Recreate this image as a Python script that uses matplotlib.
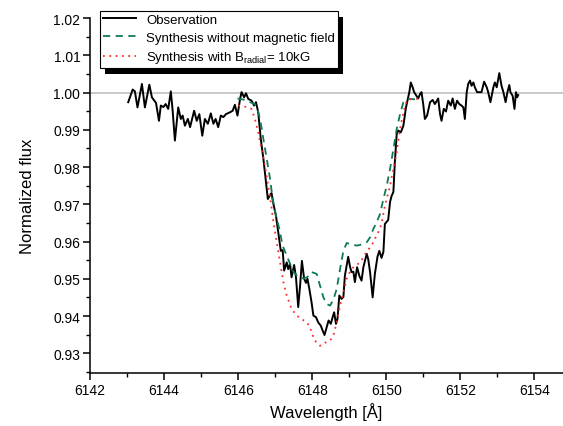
import matplotlib
matplotlib.use("Agg")
import matplotlib.pyplot as plt
from matplotlib.patches import Rectangle
from matplotlib.ticker import MultipleLocator, FormatStrFormatter

plt.rcParams['font.family'] = ['Liberation Sans', 'DejaVu Sans']
plt.rcParams['mathtext.fontset'] = 'custom'
plt.rcParams['mathtext.rm'] = 'Liberation Sans'
plt.rcParams['mathtext.it'] = 'Liberation Sans'

# Observation
obs_wl = [6143.03, 6143.15, 6143.21, 6143.28, 6143.40, 6143.48, 6143.60, 6143.67, 6143.78, 6143.86,
          6143.91, 6143.98, 6144.04, 6144.11, 6144.18, 6144.23, 6144.29, 6144.38, 6144.45, 6144.50,
          6144.56, 6144.64, 6144.70, 6144.81, 6144.88, 6144.95, 6145.03, 6145.10, 6145.18, 6145.26,
          6145.33, 6145.39, 6145.46, 6145.53, 6145.60, 6145.67, 6145.78, 6145.85, 6145.91, 6145.98,
          6146.05, 6146.09, 6146.16, 6146.21, 6146.27, 6146.36, 6146.43, 6146.48, 6146.54, 6146.61,
          6146.68, 6146.75, 6146.80, 6146.86, 6146.90, 6146.95, 6147.02, 6147.08, 6147.15, 6147.20,
          6147.24, 6147.31, 6147.35, 6147.40, 6147.44, 6147.51, 6147.56, 6147.62, 6147.67, 6147.72,
          6147.78, 6147.83, 6147.87, 6147.92, 6147.98, 6148.03, 6148.10, 6148.16, 6148.23, 6148.28,
          6148.33, 6148.39, 6148.44, 6148.50, 6148.55, 6148.59, 6148.64, 6148.68, 6148.73, 6148.79,
          6148.84, 6148.88, 6148.97, 6149.02, 6149.06, 6149.11, 6149.15, 6149.21, 6149.27, 6149.33,
          6149.38, 6149.47, 6149.51, 6149.56, 6149.63, 6149.69, 6149.76, 6149.81, 6149.87, 6149.92,
          6149.96, 6150.05, 6150.10, 6150.14, 6150.19, 6150.23, 6150.28, 6150.32, 6150.39, 6150.46,
          6150.53, 6150.57, 6150.62, 6150.66, 6150.71, 6150.75, 6150.82, 6150.86, 6150.91, 6150.95,
          6151.00, 6151.04, 6151.10, 6151.18, 6151.25, 6151.31, 6151.40, 6151.45, 6151.49, 6151.55,
          6151.61, 6151.67, 6151.74, 6151.79, 6151.85, 6151.91, 6151.97, 6152.03, 6152.08, 6152.12,
          6152.17, 6152.21, 6152.26, 6152.30, 6152.35, 6152.39, 6152.45, 6152.51, 6152.57, 6152.64,
          6152.71, 6152.75, 6152.81, 6152.89, 6152.93, 6152.98, 6153.05, 6153.11, 6153.16, 6153.22,
          6153.27, 6153.32, 6153.35, 6153.41, 6153.46, 6153.50, 6153.53, 6153.56]
obs_flux = [0.9974, 1.0008, 1.0003, 0.9960, 1.0023, 0.9960, 1.0021, 0.9987, 0.9972, 0.9924,
            0.9965, 0.9961, 0.9969, 0.9956, 1.0003, 0.9951, 0.9871, 0.9960, 0.9929, 0.9938,
            0.9911, 0.9929, 0.9907, 0.9951, 0.9924, 0.9942, 0.9884, 0.9929, 0.9916, 0.9944,
            0.9916, 0.9929, 0.9907, 0.9938, 0.9934, 0.9942, 0.9947, 0.9951, 0.9967, 0.9938,
            0.9983, 1.0001, 0.9987, 0.9998, 0.9983, 0.9978, 0.9965, 0.9974, 0.9947, 0.9875,
            0.9822, 0.9760, 0.9714, 0.9725, 0.9730, 0.9701, 0.9669, 0.9626, 0.9575, 0.9577,
            0.9522, 0.9544, 0.9526, 0.9540, 0.9504, 0.9537, 0.9504, 0.9424, 0.9481, 0.9548,
            0.9500, 0.9489, 0.9500, 0.9473, 0.9437, 0.9401, 0.9397, 0.9383, 0.9374, 0.9361,
            0.9349, 0.9370, 0.9388, 0.9379, 0.9397, 0.9410, 0.9379, 0.9392, 0.9455, 0.9446,
            0.9451, 0.9508, 0.9559, 0.9532, 0.9518, 0.9519, 0.9491, 0.9531, 0.9508, 0.9495,
            0.9531, 0.9567, 0.9553, 0.9518, 0.9450, 0.9513, 0.9559, 0.9575, 0.9556, 0.9572,
            0.9647, 0.9658, 0.9706, 0.9722, 0.9733, 0.9814, 0.9889, 0.9898, 0.9893, 0.9911,
            0.9960, 0.9978, 1.0001, 1.0027, 1.0014, 1.0001, 0.9990, 0.9984, 0.9996, 1.0001,
            0.9965, 0.9929, 0.9938, 0.9974, 0.9980, 0.9969, 0.9984, 0.9942, 0.9924, 0.9956,
            0.9949, 0.9978, 0.9965, 0.9984, 0.9956, 0.9978, 0.9969, 0.9965, 0.9960, 0.9929,
            1.0001, 1.0023, 1.0032, 1.0018, 1.0027, 1.0014, 1.0001, 1.0001, 1.0001, 1.0029,
            1.0014, 1.0001, 0.9974, 1.0014, 1.0027, 1.0014, 1.0052, 1.0018, 1.0001, 0.9974,
            1.0001, 1.0020, 1.0001, 0.9991, 0.9956, 1.0001, 0.9987, 0.9993]

# Synthesis without magnetic field
nomag_wl = [6145.98, 6146.14, 6146.32, 6146.45, 6146.52, 6146.59, 6146.68, 6146.77, 6146.86, 6146.93,
            6147.02, 6147.11, 6147.20, 6147.31, 6147.40, 6147.49, 6147.62, 6147.76, 6147.86, 6147.98,
            6148.12, 6148.21, 6148.30, 6148.39, 6148.48, 6148.57, 6148.66, 6148.75, 6148.84, 6148.93,
            6149.02, 6149.20, 6149.38, 6149.47, 6149.56, 6149.65, 6149.74, 6149.83, 6149.92, 6150.01,
            6150.10, 6150.19, 6150.28, 6150.37, 6150.46, 6150.55, 6150.64, 6150.82]
nomag_flux = [0.9984, 0.9981, 0.9974, 0.9969, 0.9956, 0.9929, 0.9875, 0.9822, 0.9768, 0.9714,
              0.9669, 0.9634, 0.9589, 0.9562, 0.9540, 0.9519, 0.9504, 0.9501, 0.9504, 0.9518,
              0.9513, 0.9481, 0.9450, 0.9432, 0.9428, 0.9444, 0.9473, 0.9526, 0.9575, 0.9596,
              0.9593, 0.9589, 0.9593, 0.9598, 0.9611, 0.9634, 0.9652, 0.9674, 0.9714, 0.9750,
              0.9795, 0.9848, 0.9902, 0.9942, 0.9974, 0.9981, 0.9983, 0.9981]

# Synthesis with B_radial = 10 kG
mag_wl = [6146.00, 6146.14, 6146.27, 6146.36, 6146.45, 6146.54, 6146.63, 6146.72, 6146.81, 6146.88,
          6146.95, 6147.04, 6147.13, 6147.22, 6147.31, 6147.44, 6147.58, 6147.71, 6147.85, 6147.94,
          6147.98, 6148.07, 6148.21, 6148.34, 6148.48, 6148.57, 6148.66, 6148.75, 6148.84, 6148.93,
          6149.02, 6149.11, 6149.20, 6149.29, 6149.38, 6149.47, 6149.60, 6149.69, 6149.78, 6149.87,
          6149.96, 6150.10, 6150.19, 6150.28, 6150.37, 6150.46, 6150.55, 6150.68, 6150.82, 6150.95]
mag_flux = [0.9965, 0.9963, 0.9960, 0.9956, 0.9929, 0.9893, 0.9848, 0.9804, 0.9750, 0.9705,
            0.9652, 0.9598, 0.9544, 0.9491, 0.9455, 0.9419, 0.9401, 0.9392, 0.9383, 0.9370,
            0.9356, 0.9334, 0.9320, 0.9328, 0.9334, 0.9347, 0.9383, 0.9428, 0.9464, 0.9500,
            0.9519, 0.9531, 0.9537, 0.9544, 0.9558, 0.9573, 0.9589, 0.9607, 0.9625, 0.9647,
            0.9696, 0.9750, 0.9795, 0.9840, 0.9902, 0.9947, 0.9978, 0.9983, 0.9983, 0.9984]

labels = ['Observation', 'Synthesis without magnetic field',
          'Synthesis with B$_{\\mathrm{radial}}$= 10kG']

fig = plt.figure(figsize=(5.63, 4.27), dpi=100)
ax = fig.add_axes([0.16, 0.1241, 0.84, 0.8314])

ax.axhline(1.0, color='#c0c0c0', lw=1.2, zorder=1)
l1, = ax.plot(obs_wl, obs_flux, color='black', lw=1.4, zorder=3)
l2, = ax.plot(nomag_wl, nomag_flux, color='#0e7a55', lw=1.3, ls=(0, (4, 3)), zorder=4)
l3, = ax.plot(mag_wl, mag_flux, color='#ff2a2a', lw=1.3, ls=(0, (1, 2.5)), zorder=4)

ax.set_xlim(6142, 6154.77)
ax.set_ylim(0.9247, 1.02)
ax.xaxis.set_major_locator(MultipleLocator(2))
ax.xaxis.set_minor_locator(MultipleLocator(1))
ax.yaxis.set_major_locator(MultipleLocator(0.01))
ax.yaxis.set_minor_locator(MultipleLocator(0.005))
ax.yaxis.set_major_formatter(FormatStrFormatter('%.2f'))
ax.xaxis.set_major_formatter(FormatStrFormatter('%d'))
for s in ['top', 'right']:
    ax.spines[s].set_visible(False)
for s in ['left', 'bottom']:
    ax.spines[s].set_linewidth(1.1)
ax.tick_params(which='major', direction='out', length=5, width=1.1, labelsize=10, pad=2)
ax.tick_params(which='minor', direction='out', length=3, width=1.0)
ax.set_xlabel('Wavelength [Å]', fontsize=12, labelpad=4)
ax.set_ylabel('Normalized flux', fontsize=12, labelpad=13)

leg = fig.legend([l1, l2, l3], labels, loc='upper left',
                 bbox_to_anchor=(100 / 563, 1 - 12 / 427), fontsize=9.5,
                 frameon=True, fancybox=False, shadow=False, framealpha=1,
                 edgecolor='black', borderpad=0.2, labelspacing=0.42,
                 handlelength=2.5, handletextpad=0.8, borderaxespad=0)
leg.get_frame().set_linewidth(0.8)
leg.set_zorder(10)

fig.canvas.draw()
bb = leg.get_window_extent()
shadow = Rectangle((bb.x0 + 5, bb.y0 - 6), bb.width, bb.height, transform=None,
                   facecolor='black', edgecolor='none', zorder=9)
fig.add_artist(shadow)

fig.savefig('out.png', dpi=100)
